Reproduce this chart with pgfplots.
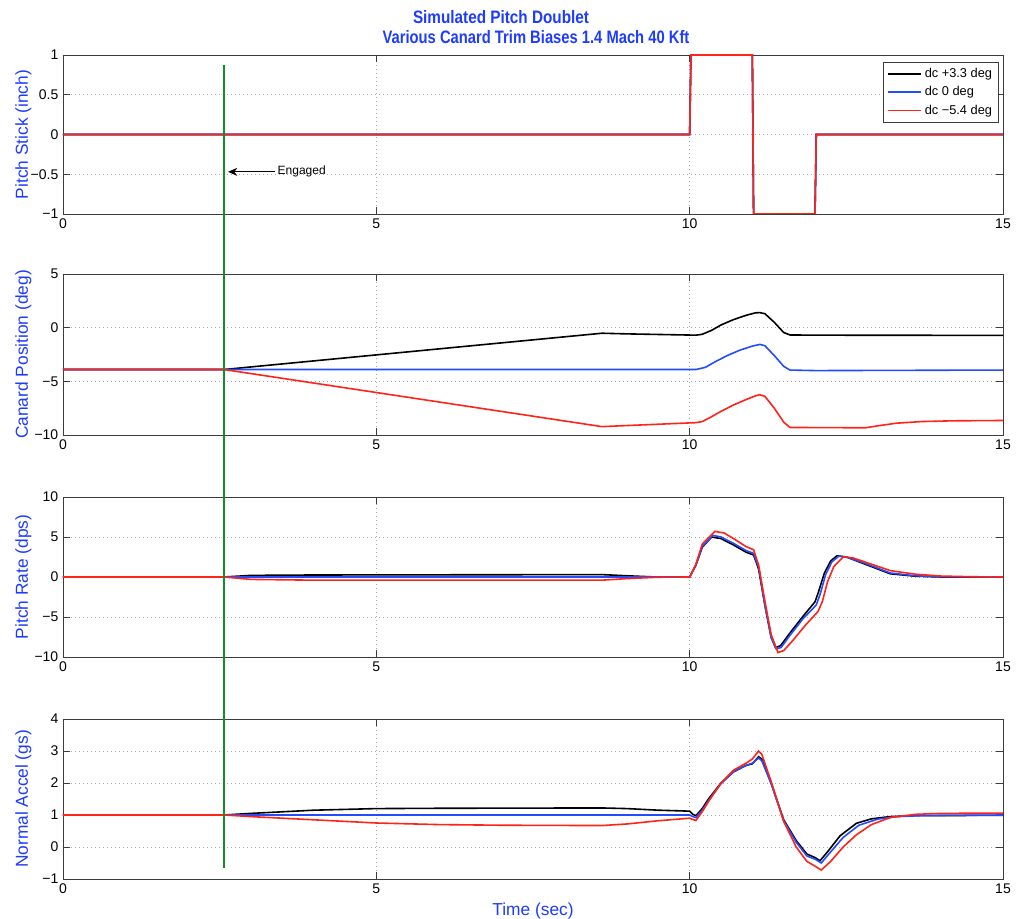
\documentclass[border=0pt]{standalone}
\usepackage{fontspec}
\setmainfont{Liberation Sans}
\usepackage{graphicx}
\usepackage{pgfplots}
\pgfplotsset{compat=1.18}
\usetikzlibrary{arrows.meta}
\definecolor{tblue}{RGB}{30,60,255}
\definecolor{lblue}{RGB}{35,75,255}
\definecolor{lred}{RGB}{255,35,25}
\definecolor{lgreen}{RGB}{20,140,40}
\definecolor{axgray}{RGB}{60,60,60}
\pgfplotsset{
  mstyle/.style={
    scale only axis, width=705pt,
    xmin=0,xmax=15, xtick={0,5,10,15},
    grid=major, major grid style={dash pattern=on 0.7pt off 2.3pt, gray!70, line width=0.5pt},
    tick align=inside, major tick length=5pt,
    axis line style={axgray, line width=0.6pt}, tick style={axgray, line width=0.6pt},
    ticklabel style={font=\fontsize{10.5}{12}\selectfont},
    /pgf/number format/assume math mode=true,
    every axis y label/.style={at={(axis description cs:-0.042,0.5)}, rotate=90, anchor=center, font=\fontsize{13}{15}\selectfont, text=tblue},
    every axis plot/.append style={line width=1.2pt},
    anchor=south west,
  }
}
\begin{document}
\begin{tikzpicture}
% ---------- Axis 1: Pitch stick
\begin{axis}[mstyle, at={(47.25pt,528.75pt)}, height=119.25pt,
  ymin=-1, ymax=1, ytick={-1,-0.5,0,0.5,1}, yticklabels={−1,−0.5,0,0.5,1},
  ylabel={Pitch Stick (inch)},
  legend style={at={(rel axis cs:0.995,0.955)}, anchor=north east, font=\fontsize{9.6}{12.5}\selectfont, draw=axgray, fill=white, inner sep=2.5pt, row sep=1.2pt},
  legend cell align=left,
  legend image code/.code={\draw[#1, line width=1.3pt] (0pt,0pt) -- (25pt,0pt);},
]
\addplot[black] coordinates {(0,0) (10,0) (10.02,1) (11,1) (11.02,-1) (12,-1) (12.02,0) (15,0)};
\addlegendentry{dc +3.3 deg}
\addplot[lblue] coordinates {(0,0) (10,0) (10.02,1) (11,1) (11.02,-1) (12,-1) (12.02,0) (15,0)};
\addlegendentry{dc 0 deg}
\addplot[lred] coordinates {(0,0) (10,0) (10.02,1) (11,1) (11.02,-1) (12,-1) (12.02,0) (15,0)};
\addlegendentry{dc −5.4 deg}
\draw[black, line width=0.6pt, -{Stealth[length=7pt,width=6pt]}] (axis cs:3.383,-0.47) -- (axis cs:2.633,-0.47);
\node[anchor=west, font=\fontsize{9}{10}\selectfont, inner sep=1pt] at (axis cs:3.40,-0.47) {Engaged};
\end{axis}
% ---------- Axis 2: Canard position
\begin{axis}[mstyle, at={(47.25pt,363pt)}, height=120.75pt,
  ymin=-10, ymax=5, ytick={-10,-5,0,5}, yticklabels={−10,−5,0,5},
  ylabel={Canard Position (deg)},
]
\addplot[black] coordinates {(0,-3.9) (2.57,-3.9) (8.6,-0.52) (9.0,-0.58) (10.1,-0.7) (10.2,-0.62) (10.35,-0.25) (10.5,0.25) (10.7,0.75) (10.9,1.15) (11.05,1.38) (11.12,1.4) (11.2,1.3) (11.35,0.5) (11.5,-0.45) (11.6,-0.68) (12,-0.7) (15,-0.72)};
\addplot[lblue] coordinates {(0,-3.9) (10.1,-3.9) (10.25,-3.7) (10.4,-3.2) (10.6,-2.6) (10.8,-2.1) (11.0,-1.72) (11.12,-1.56) (11.2,-1.68) (11.35,-2.6) (11.5,-3.6) (11.6,-3.95) (12,-4.0) (15,-3.95)};
\addplot[lred] coordinates {(0,-3.9) (2.57,-3.9) (8.6,-9.22) (10.1,-8.85) (10.2,-8.75) (10.35,-8.3) (10.5,-7.8) (10.7,-7.2) (10.9,-6.7) (11.05,-6.35) (11.12,-6.25) (11.2,-6.4) (11.35,-7.5) (11.5,-8.8) (11.6,-9.3) (12.8,-9.33) (13.0,-9.15) (13.3,-8.9) (13.7,-8.75) (14.2,-8.68) (15,-8.65)};
\end{axis}
% ---------- Axis 3: Pitch rate
\begin{axis}[mstyle, at={(47.25pt,196.5pt)}, height=120pt,
  ymin=-10, ymax=10, ytick={-10,-5,0,5,10}, yticklabels={−10,−5,0,5,10},
  ylabel={Pitch Rate (dps)},
]
\addplot[black] coordinates {(0,0) (2.57,0) (3.0,0.2) (4,0.25) (8.6,0.3) (9.0,0.15) (9.4,0.02) (10.0,0) (10.1,1.5) (10.2,3.7) (10.35,5.0) (10.5,4.8) (10.7,4.0) (10.9,3.1) (11.02,2.75) (11.1,1.0) (11.2,-3.5) (11.3,-7.5) (11.37,-8.8) (11.45,-8.6) (11.6,-7.0) (11.8,-5.0) (12.0,-3.1) (12.05,-2.0) (12.15,0.5) (12.25,2.0) (12.35,2.65) (12.5,2.5) (12.8,1.6) (13.2,0.4) (13.6,0.1) (14,0) (15,0)};
\addplot[lblue] coordinates {(0,0) (10,0) (10.1,1.5) (10.2,3.8) (10.37,5.2) (10.5,5.0) (10.7,4.2) (10.9,3.3) (11.02,2.95) (11.1,1.2) (11.2,-3.5) (11.3,-7.6) (11.38,-9.0) (11.46,-8.8) (11.6,-7.3) (11.8,-5.3) (12.02,-3.5) (12.08,-2.2) (12.17,0.3) (12.27,1.9) (12.38,2.6) (12.5,2.5) (12.8,1.7) (13.2,0.5) (13.6,0.15) (14,0.02) (15,0)};
\addplot[lred] coordinates {(0,0) (2.57,0) (3.0,-0.3) (4,-0.4) (8.6,-0.4) (9.0,-0.2) (9.5,-0.03) (10,0) (10.1,1.6) (10.2,4.1) (10.4,5.7) (10.55,5.5) (10.7,4.8) (10.9,3.8) (11.02,3.4) (11.1,1.5) (11.2,-3.0) (11.3,-7.2) (11.41,-9.45) (11.5,-9.2) (11.65,-7.9) (11.85,-6.0) (12.05,-4.3) (12.12,-3.0) (12.2,-0.6) (12.3,1.3) (12.45,2.5) (12.6,2.4) (12.9,1.6) (13.2,0.8) (13.6,0.35) (14,0.12) (14.5,0.03) (15,0)};
\end{axis}
% ---------- Axis 4: Normal accel
\begin{axis}[mstyle, at={(47.25pt,30pt)}, height=120pt, clip=false,
  ymin=-1, ymax=4, ytick={-1,0,1,2,3,4}, yticklabels={−1,0,1,2,3,4},
  ylabel={Normal Accel (gs)},
  xlabel={Time (sec)}, xlabel style={font=\fontsize{13}{15}\selectfont, text=tblue},
]
\addplot[black] coordinates {(0,1) (2.57,1) (3.0,1.05) (3.5,1.1) (4,1.15) (5,1.2) (6,1.21) (8.6,1.22) (9.0,1.2) (9.5,1.15) (10.0,1.12) (10.05,1.02) (10.1,0.98) (10.2,1.2) (10.3,1.5) (10.5,2.0) (10.7,2.35) (10.9,2.55) (11.0,2.6) (11.1,2.82) (11.15,2.75) (11.3,2.0) (11.5,0.85) (11.7,0.2) (11.87,-0.22) (12.0,-0.33) (12.08,-0.43) (12.2,-0.15) (12.4,0.35) (12.66,0.74) (12.9,0.88) (13.2,0.95) (13.6,0.98) (15,0.99)};
\addplot[lblue] coordinates {(0,1) (10.0,1.0) (10.05,0.95) (10.1,0.92) (10.2,1.15) (10.3,1.45) (10.5,1.98) (10.7,2.35) (10.9,2.55) (11.0,2.62) (11.1,2.78) (11.15,2.7) (11.3,1.98) (11.5,0.82) (11.7,0.15) (11.87,-0.28) (12.0,-0.38) (12.1,-0.5) (12.22,-0.22) (12.45,0.3) (12.7,0.68) (13.0,0.87) (13.3,0.95) (13.7,0.98) (15,1.0)};
\addplot[lred] coordinates {(0,1) (2.57,1) (3,0.95) (4,0.85) (5,0.75) (6,0.7) (7,0.68) (8.6,0.67) (9.0,0.72) (9.5,0.82) (10.0,0.9) (10.05,0.86) (10.1,0.83) (10.2,1.1) (10.3,1.42) (10.5,2.0) (10.7,2.4) (10.9,2.62) (11.0,2.75) (11.1,3.0) (11.15,2.9) (11.3,2.05) (11.5,0.8) (11.7,0.0) (11.87,-0.45) (12.0,-0.6) (12.1,-0.72) (12.25,-0.45) (12.45,0.0) (12.66,0.38) (12.9,0.7) (13.2,0.92) (13.6,1.02) (14,1.05) (15,1.06)};
\addplot[lgreen, line width=1.2pt, forget plot] coordinates {(2.57,-0.656) (2.57,24.44)};
\end{axis}
% ---------- Titles
\node[font=\fontsize{13.5}{15}\bfseries\selectfont, text=tblue, inner sep=0pt] at (375.75pt,676.5pt) {\scalebox{0.85}[1]{Simulated Pitch Doublet}};
\node[font=\fontsize{13.5}{15}\bfseries\selectfont, text=tblue, inner sep=0pt] at (402pt,661.1pt) {\scalebox{0.82}[1]{Various Canard Trim Biases 1.4 Mach 40 Kft}};
\pgfresetboundingbox
\path[use as bounding box] (0,0) rectangle (762.75pt,689.25pt);
\end{tikzpicture}
\end{document}
